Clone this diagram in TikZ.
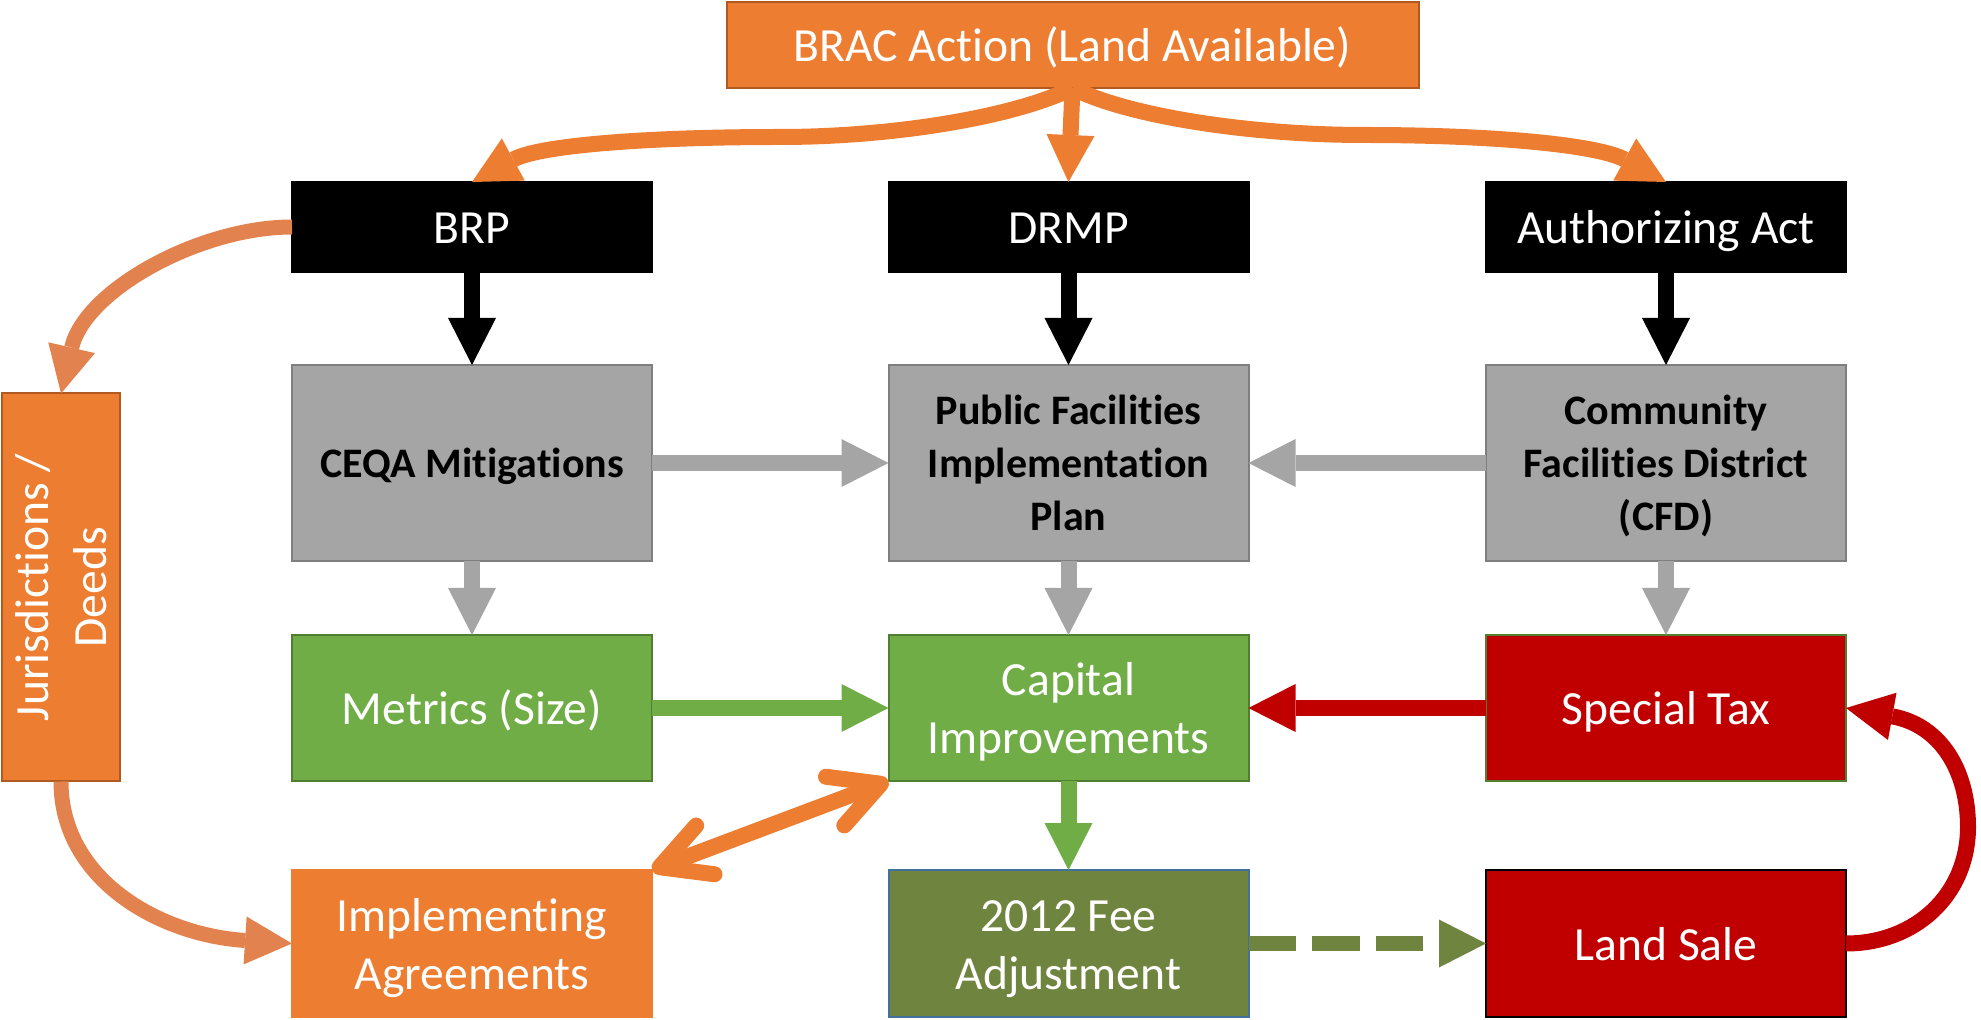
\documentclass[tikz,border=0pt]{standalone}
\usepackage{fontspec}
\setmainfont{Carlito}[Ligatures=NoCommon]
\usetikzlibrary{arrows.meta}

% line strut: every text line gets the same height and depth
\newcommand\lnstrut{\rule[-0.26em]{0pt}{1.22em}}
\newcommand\wtxt{\fontsize{23.8pt}{29.04pt}\selectfont}
\newcommand\btxt{\fontsize{21pt}{25.62pt}\selectfont\bfseries}

\definecolor{orA}{HTML}{ED7D31}
\definecolor{orB}{HTML}{AE5A21}
\definecolor{orL}{HTML}{E2834F}
\definecolor{grF}{HTML}{A5A5A5}
\definecolor{grB}{HTML}{7F7F7F}
\definecolor{gnF}{HTML}{70AD47}
\definecolor{gnB}{HTML}{507E32}
\definecolor{rdF}{HTML}{C00000}
\definecolor{olF}{HTML}{6F843F}
\definecolor{blB}{HTML}{41719C}

\tikzset{
  box/.style={rectangle, inner sep=0pt, outer sep=0pt, minimum width=180pt,
    align=center, line width=1pt},
  orbox/.style={box, fill=orA, draw=orB, text=white, font=\wtxt},
  blkbox/.style={box, fill=black, draw=black, text=white, font=\wtxt, minimum height=45pt},
  grbox/.style={box, fill=grF, draw=grB, text=black, font=\btxt, minimum height=98pt},
  gnbox/.style={box, fill=gnF, draw=gnB, text=white, font=\wtxt, minimum height=73pt},
  rdbox/.style={box, fill=rdF, text=white, font=\wtxt, minimum height=73pt},
  olbox/.style={box, fill=olF, draw=blB, text=white, font=\wtxt, minimum height=73.5pt},
  conn/.style={line width=8pt, -{Triangle[length=23.5pt, width=24pt, line width=0pt]}},
  oarr/.style={conn, draw=orA},
  larr/.style={conn, draw=orL, line width=7.5pt},
  karr/.style={conn, draw=black},
  garr/.style={conn, draw=grF},
  narr/.style={conn, draw=gnF},
  rarr/.style={conn, draw=rdF},
  darr/.style={conn, draw=olF, line width=7.5pt, dash pattern=on 23.75pt off 8pt},
  barb/.style={line width=8pt, draw=orA,
    {Straight Barb[round, length=24.5pt, width=26pt]}-{Straight Barb[round, length=24.5pt, width=26pt]}},
}

\begin{document}
\begin{tikzpicture}[x=0.5pt, y=-0.5pt]
\useasboundingbox (0,0) rectangle (1981,1020);

% top box
\node[orbox, minimum width=346pt, minimum height=43pt] (brac) at (1072.5,45)
  {\lnstrut BRAC Action (Land Available)};

% first row
\node[blkbox] (brp)  at (472,227)    {\lnstrut BRP};
\node[blkbox] (drmp) at (1068.5,227) {\lnstrut DRMP};
\node[blkbox] (auth) at (1666,227)   {\lnstrut Authorizing Act};

% second row
\node[grbox] (ceqa) at (472,463)    {\lnstrut CEQA Mitigations};
\node[grbox] (pfip) at (1068.5,463) {\lnstrut Public Facilities\\\lnstrut Implementation\\\lnstrut Plan};
\node[grbox] (cfd)  at (1666,463)   {\lnstrut Community\\\lnstrut Facilities District\\\lnstrut (CFD)};

% third row
\node[gnbox] (metrics) at (472,708)    {\lnstrut Metrics (Size)};
\node[gnbox] (capital) at (1068.5,708) {\lnstrut Capital\\\lnstrut Improvements};
\node[rdbox, draw=gnB] (special) at (1666,708) {\lnstrut Special Tax};

% bottom row
\node[orbox, draw=orA, minimum height=73.5pt] (impl) at (472,943.5)
  {\lnstrut Implementing\\\lnstrut Agreements};
\node[olbox] (fee) at (1068.5,943.5) {\lnstrut 2012 Fee\\\lnstrut Adjustment};
\node[rdbox, draw=black, line width=1.25pt, minimum height=73.5pt] (land) at (1666,943.5)
  {\lnstrut Land Sale};

% side box with vertical text
\node[orbox, minimum width=59pt, minimum height=194pt] (juris) at (61,587.5)
  {\rotatebox{90}{\parbox{170pt}{\centering\lnstrut Jurisdictions /\\\lnstrut Deeds}}};

% branches out of the top box
\draw[oarr] (brac.south) .. controls (1020,115) and (900,137) .. (780,137)
  .. controls (650,137) and (540,145) .. (brp.north);
\draw[oarr] (brac.south) -- (drmp.north);
\draw[oarr] (brac.south) .. controls (1125,115) and (1245,135) .. (1365,135)
  .. controls (1495,135) and (1598,145) .. (auth.north);

% black arrows
\draw[karr] (brp.south)  -- (ceqa.north);
\draw[karr] (drmp.south) -- (pfip.north);
\draw[karr] (auth.south) -- (cfd.north);

% grey arrows
\draw[garr] (ceqa.east) -- (pfip.west);
\draw[garr] (cfd.west)  -- (pfip.east);
\draw[garr] (ceqa.south) -- (metrics.north);
\draw[garr] (pfip.south) -- (capital.north);
\draw[garr] (cfd.south)  -- (special.north);

% green, red and olive arrows
\draw[narr] (metrics.east) -- (capital.west);
\draw[narr] (capital.south) -- (fee.north);
\draw[rarr] (special.west) -- (capital.east);
\draw[darr] (fee.east) -- (land.west);
\draw[rarr] (land.east) .. controls (1915,943.5) and (1968,895) .. (1968,827)
  .. controls (1968,770) and (1940,725) .. (special.east);

% left loop
\draw[larr] (brp.west) .. controls (200,227) and (85,290) .. (juris.north);
\draw[larr] (juris.south) .. controls (61,880) and (160,935) .. (impl.west);

% two-way link
\draw[barb] (impl.north east) -- (capital.south west);
\end{tikzpicture}
\end{document}
